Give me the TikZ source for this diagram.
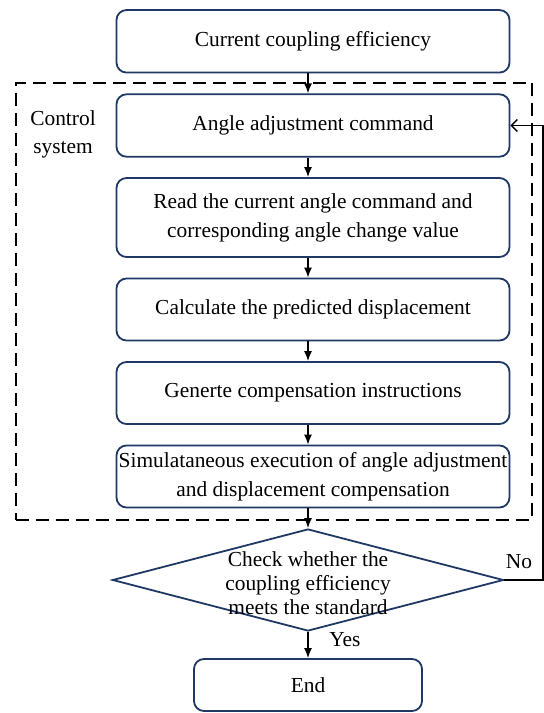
\documentclass[tikz,border=0pt]{standalone}
\usepackage{fontspec}
\setmainfont{Liberation Serif}
\usetikzlibrary{arrows.meta,shapes.geometric}
\definecolor{navy}{HTML}{1F3864}
\begin{document}
\begin{tikzpicture}[x=1pt,y=-1pt,
  box/.style={draw=navy,line width=1.8pt,rounded corners=10pt,minimum width=393pt,align=center,inner sep=0pt,font=\fontsize{21.4}{29}\selectfont},
  arr/.style={line width=1.5pt,-{Latex[length=10pt,width=8pt]}},
  lbl/.style={font=\fontsize{21.4}{25}\selectfont,inner sep=0pt}
  ]
\useasboundingbox (0,0) rectangle (544,713);
\node[draw,line width=1.6pt,dash pattern=on 13pt off 7pt,minimum width=516.3pt,minimum height=437.3pt,inner sep=0pt] (ctrl) at (273.85,301.35) {};
\node[align=center,font=\fontsize{21.4}{28}\selectfont,inner sep=0pt] (lab) at (63,134) {Control\\system};
\node[box,minimum height=62.5pt] (top) at (313,41.3) {Current coupling efficiency};
\node[box,minimum height=62.4pt] (angle) at (313,125.5) {Angle adjustment command};
\node[box,minimum height=79pt] (read) at (313,217.5) {Read the current angle command and\\corresponding angle change value};
\node[box,minimum height=62pt] (calc) at (313,309.5) {Calculate the predicted displacement};
\node[box,minimum height=62pt] (gen) at (313,393) {Generte compensation instructions};
\node[box,minimum height=62pt] (sim) at (313,476.5) {Simulataneous execution of angle adjustment\\and displacement compensation};
\node[draw=navy,line width=1.8pt,diamond,minimum width=391pt,minimum height=102pt,inner sep=0pt] (chk) at (308,580) {};
\node[align=center,font=\fontsize{21.4}{24}\selectfont,inner sep=0pt] (chktext) at (308,583) {Check whether the\\coupling efficiency\\meets the standard};
\node[box,minimum width=228pt,minimum height=52pt] (end) at (308,685) {End};
\node[lbl] (no) at (519,562) {No};
\node[lbl] (yes) at (345,640) {Yes};
\coordinate (fb) at (543,0);
\draw[arr] (top.south -| end) -- (angle.north -| end);
\draw[arr] (angle.south -| end) -- (read.north -| end);
\draw[arr] (read.south -| end) -- (calc.north -| end);
\draw[arr] (calc.south -| end) -- (gen.north -| end);
\draw[arr] (gen.south -| end) -- (sim.north -| end);
\draw[arr] (sim.south -| end) -- (chk.north);
\draw[arr] (chk.south) -- (end.north);
\draw[line width=1.4pt,-{Straight Barb[length=6pt,width=12pt]}] (chk.east) -- (chk.east -| fb) |- (angle.east);
\end{tikzpicture}
\end{document}
